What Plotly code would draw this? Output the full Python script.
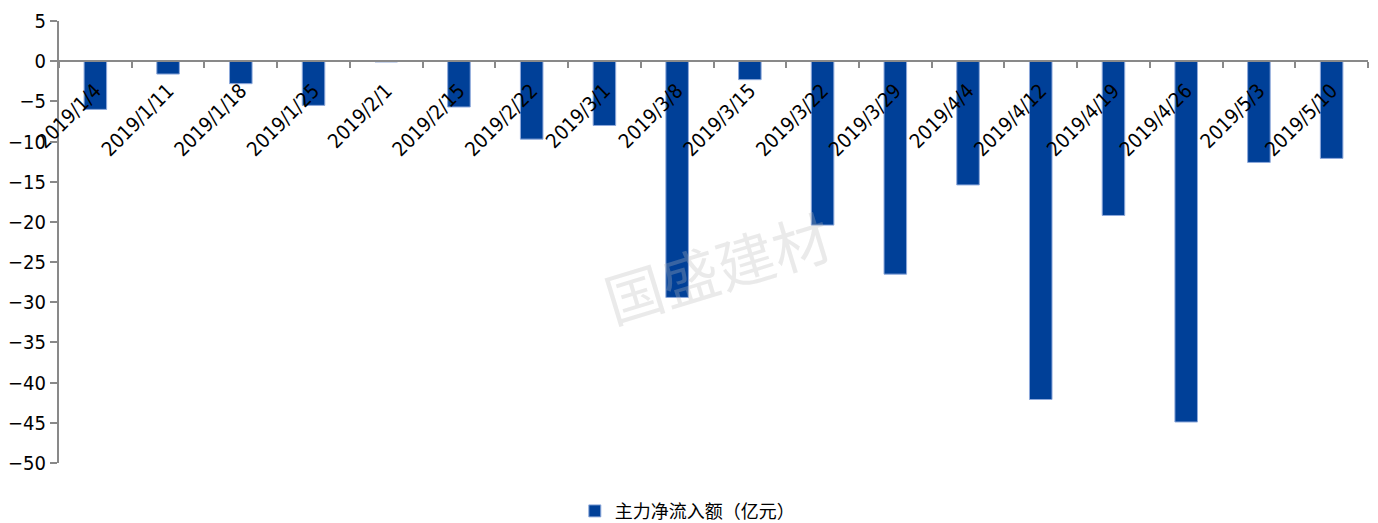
import plotly.graph_objects as go

categories = ["2019/1/4", "2019/1/11", "2019/1/18", "2019/1/25", "2019/2/1", "2019/2/15",
              "2019/2/22", "2019/3/1", "2019/3/8", "2019/3/15", "2019/3/22", "2019/3/29",
              "2019/4/4", "2019/4/12", "2019/4/19", "2019/4/26", "2019/5/3", "2019/5/10"]
net_inflow = [-6.0, -1.6, -2.8, -5.5, -0.1, -5.7, -9.7, -8.0, -29.4, -2.3, -20.4, -26.5,
              -15.4, -42.1, -19.2, -44.9, -12.6, -12.1]
series_name = "主力净流入额（亿元）"
y_ticks = [5, 0, -5, -10, -15, -20, -25, -30, -35, -40, -45, -50]
y_min, y_max = -50, 5

axis_font = dict(family="DejaVu Sans Condensed, DejaVu Sans", size=20, color="#000000")

fig = go.Figure()
fig.add_trace(go.Bar(
    x=categories, y=net_inflow, name=series_name,
    marker=dict(color="#004098", line=dict(color="#8EA9DB", width=1)),
    width=0.31,
))

fig.update_layout(
    width=1378, height=523,
    margin=dict(l=59, r=10, t=21, b=60, autoexpand=False),
    paper_bgcolor="white", plot_bgcolor="white",
    showlegend=True,
    legend=dict(orientation="h", x=0.48, xanchor="center", y=-0.109, yanchor="middle",
                font=dict(family="Noto Sans CJK SC", size=18, color="#000000"),
                itemwidth=30),
    bargap=0.69,
    xaxis=dict(
        type="category", anchor="free", position=(0 - y_min) / (y_max - y_min),
        showline=True, linecolor="#898989", linewidth=2,
        ticks="outside", ticklen=6, tickcolor="#898989", tickwidth=2,
        tickson="boundaries", tickangle=-45, tickfont=axis_font, ticklabelstandoff=9,
        showgrid=False, zeroline=False, automargin=False,
    ),
    yaxis=dict(
        range=[y_min, y_max], tickvals=y_ticks,
        showline=True, linecolor="#898989", linewidth=2,
        ticks="outside", ticklen=7, tickcolor="#898989", tickwidth=2,
        tickfont=axis_font, showgrid=False, zeroline=False, automargin=False,
    ),
    annotations=[dict(
        text="国盛建材", xref="paper", yref="paper", x=0.503, y=0.445,
        showarrow=False, textangle=-17,
        font=dict(family="Noto Sans CJK SC", size=58, color="rgba(185,185,185,0.3)"),
    )],
)

fig.write_html("out.html", config={"displayModeBar": False},
               post_script="document.body.style.margin='0';document.body.style.overflow='hidden';")
